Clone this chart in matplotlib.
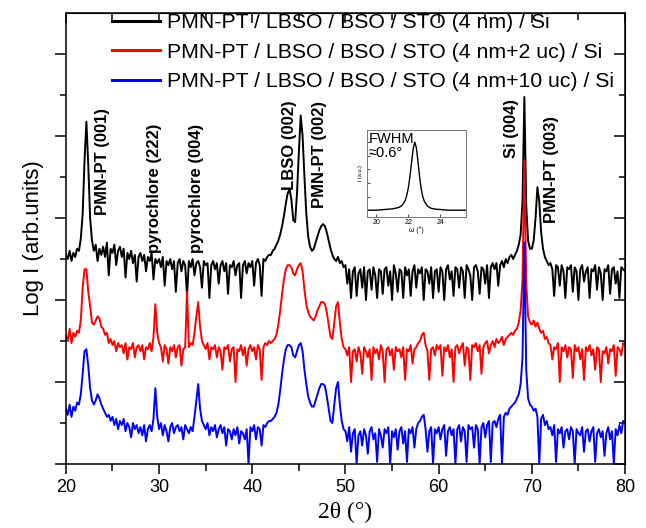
import numpy as np
import matplotlib
matplotlib.use('Agg')
import matplotlib.pyplot as plt

plt.rcParams['font.family'] = ['Liberation Sans', 'DejaVu Sans']

# 2theta grid (deg), 0.2 deg step
two_theta = np.round(np.arange(20, 80.001, 0.2), 1)

# log intensity above the background floor
log_i_4nm = [
    1.10, 1.00, 1.20, 0.95, 1.15, 1.05, 1.25, 1.20, 1.50, 2.10,
    3.40, 4.35, 3.30, 2.00, 1.45, 1.20, 1.35, 0.95, 1.25, 1.10,
    1.30, 1.05, 1.40, 0.60, 1.25, 1.15, 1.35, 0.85, 1.20, 1.30,
    1.05, 1.25, 0.55, 1.15, 1.00, 1.20, 0.90, 1.10, 0.45, 1.05,
    1.15, 0.95, 1.10, 0.70, 1.05, 0.95, 1.15, 0.50, 1.00, 0.90,
    1.00, 0.80, 1.05, 0.35, 0.95, 0.85, 1.00, 0.75, 0.95, 0.20,
    0.90, 1.00, 0.70, 0.95, 0.85, 0.10, 0.95, 0.80, 1.00, 0.60,
    0.90, 0.95, 0.80, 0.30, 0.95, 0.85, 0.90, 0.05, 0.85, 0.95,
    0.75, 0.90, 0.40, 0.85, 0.95, 0.70, 0.90, 0.15, 0.85, 0.80,
    0.95, 0.60, 0.85, 0.90, 0.05, 0.85, 0.95, 0.65, 0.90, 0.80,
    0.95, 0.35, 0.90, 1.00, 0.85, 0.10, 1.00, 0.95, 1.05, 1.10,
    1.10, 1.20, 1.25, 1.35, 1.45, 1.60, 1.80, 2.05, 2.35, 2.60,
    2.70, 2.45, 1.95, 1.90, 2.60, 3.60, 4.50, 4.00, 3.00, 2.10,
    1.55, 1.30, 1.20, 1.25, 1.40, 1.55, 1.70, 1.80, 1.85, 1.80,
    1.65, 1.45, 1.25, 1.10, 1.00, 0.95, 1.05, 0.90, 0.95, 0.80,
    0.85, 0.40, 0.75, 0.05, 0.70, 0.80, 0.10, 0.65, 0.75, 0.30,
    0.80, 0.00, 0.70, 0.75, 0.25, 0.80, 0.60, 0.05, 0.75, 0.70,
    0.15, 0.75, 0.80, 0.35, 0.70, 0.00, 0.85, 0.65, 0.20, 0.75,
    0.70, 0.05, 0.80, 0.60, 0.75, 0.10, 0.70, 0.85, 0.30, 0.75,
    0.65, 0.80, 0.00, 0.75, 0.70, 0.40, 0.80, 0.05, 0.70, 0.75,
    0.20, 0.80, 0.70, 0.00, 0.75, 0.85, 0.50, 0.70, 0.10, 0.80,
    0.75, 0.30, 0.80, 0.70, 0.05, 0.85, 0.75, 0.60, 0.00, 0.80,
    0.85, 0.70, 0.15, 0.80, 0.75, 0.40, 0.85, 0.05, 0.80, 0.90,
    0.75, 0.90, 0.35, 0.85, 0.95, 0.80, 1.00, 0.90, 1.05, 1.10,
    1.00, 1.10, 1.20, 1.35, 1.60, 2.40, 4.95, 2.30, 1.45, 1.25,
    1.25, 1.45, 2.00, 2.75, 2.40, 1.65, 1.25, 1.05, 0.95, 0.85,
    0.90, 0.75, 0.10, 0.85, 0.80, 0.35, 0.85, 0.70, 0.05, 0.80,
    0.75, 0.85, 0.20, 0.80, 0.70, 0.00, 0.75, 0.85, 0.45, 0.70,
    0.80, 0.05, 0.75, 0.70, 0.85, 0.25, 0.80, 0.65, 0.00, 0.75,
    0.70, 0.85, 0.15, 0.75, 0.80, 0.40, 0.70, 0.05, 0.80, 0.75,
    0.70]

log_i_2uc = [
    1.15, 1.00, 1.30, 0.95, 1.20, 1.10, 1.25, 1.20, 1.50, 2.30,
    2.75, 2.75, 2.20, 1.85, 1.45, 1.40, 1.50, 1.60, 1.55, 1.35,
    1.30, 1.15, 1.20, 0.95, 1.05, 0.90, 1.00, 0.75, 0.95, 0.85,
    0.90, 0.70, 0.95, 0.55, 0.85, 0.80, 0.95, 0.60, 0.85, 0.90,
    0.75, 0.90, 0.55, 0.85, 0.80, 0.95, 0.75, 1.10, 1.90, 1.20,
    0.95, 0.85, 0.50, 0.90, 0.80, 0.45, 0.85, 0.75, 0.90, 0.60,
    0.85, 0.90, 0.40, 0.80, 0.85, 2.20, 0.85, 0.95, 0.90, 1.20,
    1.60, 1.95, 1.35, 1.00, 0.90, 0.80, 0.95, 0.55, 0.85, 0.80,
    0.90, 0.60, 0.85, 0.75, 0.30, 0.85, 0.80, 0.90, 0.50, 0.80,
    0.85, 0.00, 0.80, 0.75, 0.90, 0.65, 0.85, 0.40, 0.80, 0.90,
    0.75, 0.85, 0.55, 0.90, 0.80, 0.05, 0.85, 0.95, 0.90, 1.00,
    0.95, 1.00, 1.05, 1.15, 1.40, 1.75, 2.15, 2.50, 2.75, 2.85,
    2.85, 2.80, 2.65, 2.60, 2.75, 2.85, 2.90, 2.70, 2.25, 1.90,
    1.70, 1.60, 1.55, 1.50, 1.60, 1.75, 1.85, 1.95, 1.95, 1.90,
    1.70, 1.40, 1.10, 1.05, 1.45, 1.85, 1.95, 1.45, 1.05, 0.85,
    0.80, 0.65, 0.85, 0.00, 0.75, 0.80, 0.50, 0.85, 0.70, 0.20,
    0.85, 0.75, 0.60, 0.80, 0.05, 0.85, 0.70, 0.80, 0.55, 0.90,
    0.75, 0.00, 0.80, 0.85, 0.65, 0.80, 0.30, 0.85, 0.75, 0.80,
    0.60, 0.85, 0.05, 0.80, 0.75, 0.90, 0.45, 0.80, 0.85, 0.95,
    1.00, 1.15, 1.20, 0.90, 0.75, 0.05, 0.80, 0.85, 0.65, 0.90,
    0.80, 0.90, 0.15, 0.85, 0.75, 0.90, 0.60, 0.80, 0.00, 0.85,
    0.90, 0.70, 0.85, 0.95, 0.40, 0.85, 0.80, 0.05, 0.90, 0.85,
    0.95, 0.75, 0.90, 0.20, 0.85, 0.95, 1.00, 0.70, 0.90, 1.00,
    0.85, 1.05, 0.95, 1.00, 1.10, 0.90, 1.05, 1.10, 1.15, 1.20,
    1.15, 1.25, 1.30, 1.45, 1.75, 2.50, 5.40, 2.40, 1.60, 1.45,
    1.40, 1.50, 1.35, 1.45, 1.30, 1.20, 1.25, 1.05, 1.10, 0.95,
    0.90, 0.55, 0.85, 0.80, 0.95, 0.00, 0.85, 0.75, 0.90, 0.60,
    0.85, 0.80, 0.10, 0.90, 0.75, 0.85, 0.55, 0.80, 0.05, 0.85,
    0.75, 0.90, 0.65, 0.80, 0.30, 0.85, 0.80, 0.00, 0.75, 0.70,
    0.85, 0.45, 0.80, 0.75, 0.90, 0.15, 0.85, 0.80, 0.65, 0.95,
    0.90]

log_i_10uc = [
    1.35, 1.20, 1.45, 1.15, 1.40, 1.30, 1.50, 1.45, 1.70, 2.20,
    2.75, 2.80, 2.40, 1.85, 1.55, 1.45, 1.55, 1.70, 1.60, 1.45,
    1.35, 1.25, 1.15, 1.20, 1.05, 1.15, 0.95, 1.10, 0.85, 1.05,
    0.95, 1.10, 0.80, 1.00, 0.90, 0.65, 1.00, 0.85, 0.95, 0.75,
    0.90, 0.70, 0.95, 0.55, 0.85, 0.95, 0.80, 1.10, 1.85, 1.15,
    0.85, 1.00, 0.70, 0.95, 0.80, 0.55, 0.90, 1.00, 0.75, 0.90,
    0.95, 0.80, 0.90, 0.60, 0.95, 0.85, 0.75, 0.90, 0.80, 1.15,
    1.55, 1.95, 1.35, 1.05, 0.95, 0.85, 1.00, 0.70, 0.90, 0.80,
    0.95, 0.65, 0.85, 0.95, 0.75, 0.90, 0.45, 0.85, 0.80, 0.60,
    0.85, 0.70, 0.90, 0.50, 0.80, 0.75, 0.60, 0.85, 0.00, 0.90,
    0.80, 0.95, 0.60, 0.90, 0.85, 0.45, 0.95, 0.90, 1.00, 1.05,
    1.05, 1.10, 1.15, 1.25, 1.45, 1.80, 2.20, 2.55, 2.80, 2.90,
    2.90, 2.85, 2.65, 2.60, 2.75, 2.90, 2.95, 2.75, 2.30, 1.95,
    1.65, 1.50, 1.40, 1.40, 1.55, 1.70, 1.85, 1.95, 1.95, 1.90,
    1.65, 1.35, 1.05, 1.00, 1.45, 1.85, 2.00, 1.45, 1.05, 0.85,
    0.80, 0.55, 0.90, 0.30, 0.75, 0.85, 0.00, 0.70, 0.80, 0.45,
    0.85, 0.70, 0.25, 0.80, 0.90, 0.60, 0.75, 0.05, 0.85, 0.70,
    0.40, 0.85, 0.75, 0.90, 0.00, 0.80, 0.65, 0.85, 0.35, 0.80,
    0.90, 0.50, 0.80, 0.05, 0.85, 0.75, 0.90, 0.40, 0.85, 1.00,
    1.05, 1.15, 1.20, 0.85, 0.30, 0.80, 0.90, 0.00, 0.85, 0.75,
    0.90, 0.60, 0.85, 0.95, 0.20, 0.80, 0.90, 0.70, 0.85, 0.00,
    0.85, 0.95, 0.55, 0.90, 0.80, 0.05, 0.95, 0.85, 0.90, 0.40,
    0.95, 0.85, 0.00, 0.90, 1.00, 0.65, 0.95, 1.05, 0.05, 1.00,
    1.05, 0.90, 1.10, 1.20, 0.00, 1.15, 1.25, 1.20, 1.35, 1.40,
    1.45, 1.50, 1.60, 1.70, 1.95, 2.60, 5.40, 2.30, 1.60, 1.45,
    1.40, 1.30, 1.35, 1.15, 0.00, 1.10, 1.20, 0.95, 1.05, 0.85,
    0.90, 0.70, 0.95, 0.05, 0.85, 0.75, 0.90, 0.40, 0.80, 0.85,
    0.60, 0.90, 0.80, 0.00, 0.85, 0.75, 0.70, 0.90, 0.30, 0.80,
    0.85, 0.55, 0.80, 0.90, 0.05, 0.75, 0.85, 0.65, 0.80, 0.20,
    0.75, 0.90, 0.60, 0.80, 0.00, 0.85, 0.70, 0.95, 0.75, 1.05,
    1.00]

labels = ['PMN-PT / LBSO / BSO / STO (4 nm) / Si',
          'PMN-PT / LBSO / BSO / STO (4 nm+2 uc) / Si',
          'PMN-PT / LBSO / BSO / STO (4 nm+10 uc) / Si']
colors = ['#000000', '#ff0000', '#0000ff']
offsets = [4, 2, 0]

# peak labels: text, 2theta, height of text bottom
peak_names = ['PMN-PT (001)', 'pyrochlore (222)', 'pyrochlore (004)', 'LBSO (002)',
              'PMN-PT (002)', 'Si (004)', 'PMN-PT (003)']
peak_x = [23.9, 29.55, 34.05, 44.0, 47.25, 67.85, 72.15]
peak_y = [6.07, 5.15, 5.15, 6.68, 6.24, 7.46, 5.88]

# rocking curve for the inset
omega = [19.5, 20.0, 20.5, 21.0, 21.4, 21.6, 21.8, 21.9, 22.0, 22.1, 22.2, 22.3, 22.4,
         22.5, 22.6, 22.7, 22.8, 22.9, 23.0, 23.2, 23.4, 23.7, 24.0, 24.5, 25.0, 25.6]
rc_int = [0.0, 0.0, 0.01, 0.02, 0.04, 0.07, 0.14, 0.22, 0.33, 0.50, 0.70, 0.90, 1.00,
          0.92, 0.72, 0.50, 0.32, 0.20, 0.13, 0.06, 0.03, 0.015, 0.01, 0.0, 0.0, 0.0]

fig = plt.figure(figsize=(6.46, 5.28), dpi=100)
ax = fig.add_axes([0.102, 0.1212, 0.8655, 0.8542])

series = [log_i_4nm, log_i_2uc, log_i_10uc]
for i in range(3):
    ax.plot(two_theta, np.array(series[i]) + offsets[i], color=colors[i], lw=1.4, label=labels[i])

ax.set_xlim(20, 80)
ax.set_ylim(0, 11)
ax.set_xticks([20, 30, 40, 50, 60, 70, 80])
ax.set_xticks(np.arange(25, 80, 10), minor=True)
ax.set_yticks([0, 2, 4, 6, 8, 10])
ax.set_yticks([1, 3, 5, 7, 9], minor=True)
ax.set_yticklabels([])
ax.tick_params(axis='x', which='major', direction='out', length=7, width=1.1, labelsize=13, pad=4)
ax.tick_params(axis='x', which='minor', direction='out', length=5, width=1.1)
ax.tick_params(axis='y', which='major', direction='out', length=8, width=1.1)
ax.tick_params(axis='y', which='minor', direction='out', length=4, width=1.1)
for s in ax.spines.values():
    s.set_linewidth(1.1)

# top and right: ticks pointing in
top = ax.secondary_xaxis('top')
top.set_xticks([20, 30, 40, 50, 60, 70, 80])
top.set_xticks(np.arange(25, 80, 10), minor=True)
top.set_xticklabels([])
top.tick_params(which='major', direction='in', length=7, width=1.1)
top.tick_params(which='minor', direction='in', length=5, width=1.1)
right = ax.secondary_yaxis('right')
right.set_yticks([0, 2, 4, 6, 8, 10])
right.set_yticks([1, 3, 5, 7, 9], minor=True)
right.set_yticklabels([])
right.tick_params(which='major', direction='in', length=8, width=1.1)
right.tick_params(which='minor', direction='in', length=4, width=1.1)

ax.set_xlabel('2θ (°)', family='Liberation Serif', fontsize=17, labelpad=4)
ax.set_ylabel('Log I (arb.units)', fontsize=16, labelpad=4)

for name, px, py in zip(peak_names, peak_x, peak_y):
    ax.text(px, py, name, rotation=90, ha='center', va='bottom', fontsize=12, fontweight='bold')

leg = ax.legend(loc='upper left', bbox_to_anchor=(0.082, 1.0), frameon=False, fontsize=15.3,
                handlelength=2.25, handletextpad=0.33, labelspacing=0.5, borderpad=0, borderaxespad=0)
for h in leg.get_lines():
    h.set_linewidth(2.2)

# inset
axin = fig.add_axes([0.568, 0.589, 0.153, 0.165])
axin.plot(omega, rc_int, color='black', lw=1.0)
axin.set_xlim(19.4, 25.6)
axin.set_ylim(-0.1, 1.18)
axin.set_xticks([20, 22, 24])
axin.set_yticks([0, 0.2, 0.4, 0.6, 0.8, 1.0])
axin.set_yticklabels([])
axin.tick_params(labelsize=5, length=2, width=0.5, direction='in', pad=1.5)
for s in axin.spines.values():
    s.set_linewidth(0.7)
    s.set_color('#777777')
axin.set_xlabel('ω (°)', fontsize=5, labelpad=0.5)
axin.set_ylabel('I (a.u.)', fontsize=4, labelpad=1)
axin.text(0.02, 0.90, 'FWHM', transform=axin.transAxes, fontsize=10.5, va='center', ha='left')
axin.text(0.02, 0.735, '≈0.6°', transform=axin.transAxes, fontsize=10.5, va='center', ha='left')

fig.savefig('out.png', dpi=100)
